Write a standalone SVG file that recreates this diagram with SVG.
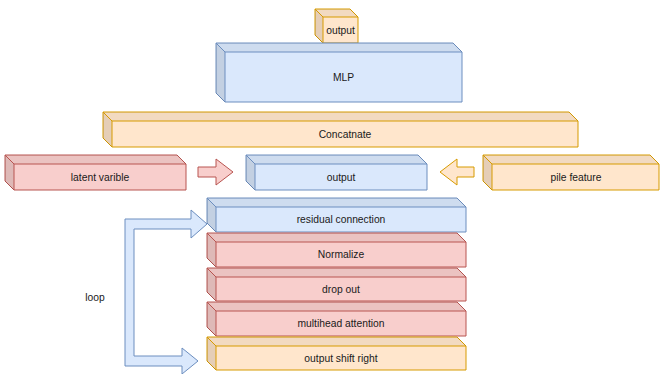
<svg xmlns="http://www.w3.org/2000/svg" width="660" height="374" viewBox="0 0 660 374">
<style>
.blue{fill:#dae8fc;stroke:#6c8ebf;stroke-width:1}
.red{fill:#f8cecc;stroke:#b85450;stroke-width:1}
.orange{fill:#ffe6cc;stroke:#d79b00;stroke-width:1}
.top{fill:#000;fill-opacity:0.05;stroke:none}
.side{fill:#000;fill-opacity:0.1;stroke:none}
.edge{fill:none;stroke-width:1}
.eb{stroke:#6c8ebf}.er{stroke:#b85450}.eo{stroke:#d79b00}
text{font-family:"Liberation Sans",Arial,sans-serif;font-size:10.3px;fill:#1a1a1a;text-anchor:middle}
</style>
<rect width="660" height="374" fill="#ffffff"/>

<g id="connectors">
<path class="blue" d="M125,219 L191,219 L191,210 L207,224 L191,238 L191,229 L134,229 L134,356 L182,356 L182,348 L198,361 L182,374 L182,366 L125,366 Z"/>
<path class="red" d="M198,167 L216,167 L216,159 L233,172 L216,185 L216,177 L198,177 Z"/>
<path class="orange" d="M474,167 L457,167 L457,159 L440,172 L457,185 L457,177 L474,177 Z"/>
<text x="95" y="301">loop</text>
</g>

<!-- cube: x,y,w,h,d -->
<g id="output-top">
<path class="orange" d="M315,9 L350,9 L358,17 L358,43 L323,43 L315,35 Z"/>
<path class="top" d="M315,9 L350,9 L358,17 L323,17 Z"/>
<path class="side" d="M315,9 L323,17 L323,43 L315,35 Z"/>
<path class="edge eo" d="M315,9 L323,17 L358,17 M323,17 L323,43"/>
<text x="340.5" y="33.5">output</text>
</g>

<g id="mlp">
<path class="blue" d="M216,43 L453,43 L462,52 L462,102 L225,102 L216,93 Z"/>
<path class="top" d="M216,43 L453,43 L462,52 L225,52 Z"/>
<path class="side" d="M216,43 L225,52 L225,102 L216,93 Z"/>
<path class="edge eb" d="M216,43 L225,52 L462,52 M225,52 L225,102"/>
<text x="343.5" y="80.5">MLP</text>
</g>

<g id="concatnate">
<path class="orange" d="M103,112 L569,112 L578,121 L578,147 L112,147 L103,138 Z"/>
<path class="top" d="M103,112 L569,112 L578,121 L112,121 Z"/>
<path class="side" d="M103,112 L112,121 L112,147 L103,138 Z"/>
<path class="edge eo" d="M103,112 L112,121 L578,121 M112,121 L112,147"/>
<text x="345" y="137.5">Concatnate</text>
</g>

<g id="latent-varible">
<path class="red" d="M5,155 L177,155 L186,164 L186,190 L14,190 L5,181 Z"/>
<path class="top" d="M5,155 L177,155 L186,164 L14,164 Z"/>
<path class="side" d="M5,155 L14,164 L14,190 L5,181 Z"/>
<path class="edge er" d="M5,155 L14,164 L186,164 M14,164 L14,190"/>
<text x="100" y="180.5">latent varible</text>
</g>

<g id="output-mid">
<path class="blue" d="M246,155 L418,155 L427,164 L427,190 L255,190 L246,181 Z"/>
<path class="top" d="M246,155 L418,155 L427,164 L255,164 Z"/>
<path class="side" d="M246,155 L255,164 L255,190 L246,181 Z"/>
<path class="edge eb" d="M246,155 L255,164 L427,164 M255,164 L255,190"/>
<text x="341" y="180.5">output</text>
</g>

<g id="pile-feature">
<path class="orange" d="M483,155 L650,155 L659,164 L659,190 L492,190 L483,181 Z"/>
<path class="top" d="M483,155 L650,155 L659,164 L492,164 Z"/>
<path class="side" d="M483,155 L492,164 L492,190 L483,181 Z"/>
<path class="edge eo" d="M483,155 L492,164 L659,164 M492,164 L492,190"/>
<text x="576" y="180.5">pile feature</text>
</g>

<g id="residual-connection">
<path class="blue" d="M207,198 L457,198 L466,207 L466,232 L216,232 L207,223 Z"/>
<path class="top" d="M207,198 L457,198 L466,207 L216,207 Z"/>
<path class="side" d="M207,198 L216,207 L216,232 L207,223 Z"/>
<path class="edge eb" d="M207,198 L216,207 L466,207 M216,207 L216,232"/>
<text x="341" y="223">residual connection</text>
</g>

<g id="normalize">
<path class="red" d="M207,233 L457,233 L466,242 L466,267 L216,267 L207,258 Z"/>
<path class="top" d="M207,233 L457,233 L466,242 L216,242 Z"/>
<path class="side" d="M207,233 L216,242 L216,267 L207,258 Z"/>
<path class="edge er" d="M207,233 L216,242 L466,242 M216,242 L216,267"/>
<text x="341" y="258">Normalize</text>
</g>

<g id="drop-out">
<path class="red" d="M207,268 L457,268 L466,277 L466,301 L216,301 L207,292 Z"/>
<path class="top" d="M207,268 L457,268 L466,277 L216,277 Z"/>
<path class="side" d="M207,268 L216,277 L216,301 L207,292 Z"/>
<path class="edge er" d="M207,268 L216,277 L466,277 M216,277 L216,301"/>
<text x="341" y="292.5">drop out</text>
</g>

<g id="multihead-attention">
<path class="red" d="M207,302 L457,302 L466,311 L466,336 L216,336 L207,327 Z"/>
<path class="top" d="M207,302 L457,302 L466,311 L216,311 Z"/>
<path class="side" d="M207,302 L216,311 L216,336 L207,327 Z"/>
<path class="edge er" d="M207,302 L216,311 L466,311 M216,311 L216,336"/>
<text x="341" y="327">multihead attention</text>
</g>

<g id="output-shift-right">
<path class="orange" d="M207,337 L457,337 L466,346 L466,370 L216,370 L207,361 Z"/>
<path class="top" d="M207,337 L457,337 L466,346 L216,346 Z"/>
<path class="side" d="M207,337 L216,346 L216,370 L207,361 Z"/>
<path class="edge eo" d="M207,337 L216,346 L466,346 M216,346 L216,370"/>
<text x="341" y="361.5">output shift right</text>
</g>
</svg>
